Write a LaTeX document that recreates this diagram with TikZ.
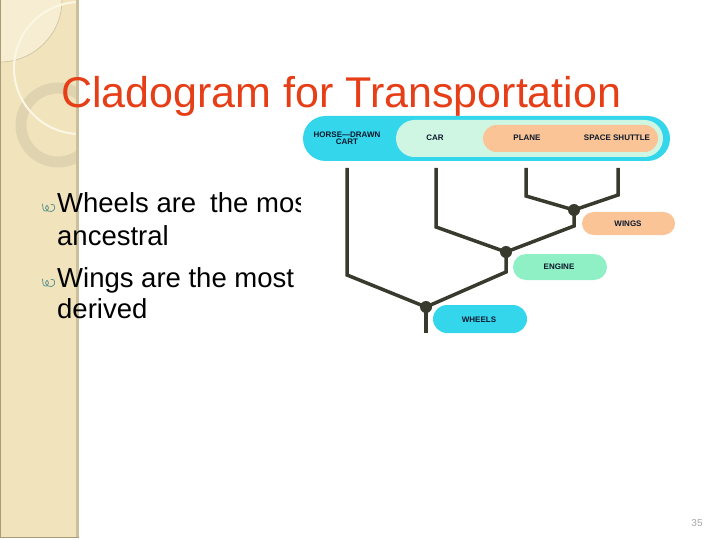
\documentclass[tikz,border=0pt]{standalone}
\usepackage{fontspec}
\setmainfont{Liberation Sans}
\definecolor{side}{RGB}{241,227,188}
\definecolor{sideedge}{RGB}{204,191,156}
\definecolor{sideline}{RGB}{170,155,120}
\definecolor{lightc}{RGB}{246,237,210}
\definecolor{ringc}{RGB}{222,209,174}
\definecolor{creamc}{RGB}{252,247,228}
\definecolor{titlered}{RGB}{230,62,22}
\definecolor{cyanp}{RGB}{52,214,236}
\definecolor{greenp}{RGB}{206,246,226}
\definecolor{orangep}{RGB}{250,196,150}
\definecolor{mintp}{RGB}{142,240,196}
\definecolor{branch}{RGB}{55,58,45}
\definecolor{labtext}{RGB}{12,24,44}
\definecolor{bulc}{RGB}{95,150,140}
\begin{document}
\begin{tikzpicture}[x=1pt,y=-1pt,
  lab/.style={font=\fontsize{8}{8}\selectfont\bfseries, text=labtext, inner sep=0, align=center},
  clade/.style={line width=3.5pt, draw=branch},
  dot/.style={circle, fill=branch, minimum size=12pt, inner sep=0},
  body/.style={anchor=base west, inner sep=0, font=\fontsize{27.5}{32}\selectfont},
  curlbullet/.pic={\draw[bulc, line width=0.8pt, line cap=round]
     plot[smooth] coordinates {(0.5,-2) (1.5,4) (4.5,5) (6.5,2) (5,-0.5) (3.5,2) (6,5) (9.5,5.5) (12.5,3) (12,-1) (9,-1.5)};}
]
\useasboundingbox (0,0) rectangle (720,540);
% sidebar
\fill[side] (0,0) rectangle (76,537);
\begin{scope}
  \clip (0,0) rectangle (76,537);
  \fill[lightc] (0,0) circle (62);
  \draw[sideedge, line width=0.6pt] (0,0) circle (62);
  \draw[ringc, line width=11pt, opacity=0.85] (58,125) circle (37);
  \draw[creamc, line width=2pt] (80,68) circle (66);
\end{scope}
\fill[sideedge] (76,0) rectangle (79,537);
\draw[sideline, line width=0.8pt] (0.4,0) -- (0.4,537) -- (79,537);
% title
\node[anchor=base west, inner sep=0, text=titlered, font=\fontsize{43}{50}\selectfont] (title) at (61,108) {Cladogram for Transportation};
% bullets
\pic at (42,206) {curlbullet};
\pic at (42,281) {curlbullet};
\begin{scope}
  \clip (0,150) rectangle (300,340);
  \node[body] (b1) at (57,212) {Wheels are\hspace{14pt}the most};
\end{scope}
\node[body] (b1b) at (57,245) {ancestral};
\node[body] (b2) at (57,287) {Wings are the most};
\node[body] (b2b) at (57,318) {derived};
% top band
\fill[cyanp] (303,116) [rounded corners=22.5pt] rectangle (670,161);
\fill[greenp] (396,120) [rounded corners=18.5pt] rectangle (663,157);
\fill[orangep] (483,125) [rounded corners=13.5pt] rectangle (658,152);
\node[lab] (horse) at (347,138) {HORSE—DRAWN\\[-1pt]CART};
\node[lab] (car) at (435,138) {CAR};
\node[lab] (plane) at (527,138) {PLANE};
\node[lab] (shuttle) at (617,138) {SPACE SHUTTLE};
% trait pills
\fill[orangep] (582,212) [rounded corners=11.5pt] rectangle (675,235);
\node[lab] (wings) at (628,223.5) {WINGS};
\fill[mintp] (513,254) [rounded corners=13pt] rectangle (607,280);
\node[lab] (engine) at (559,267) {ENGINE};
\fill[cyanp] (433,305) [rounded corners=14pt] rectangle (527,333);
\node[lab] (wheels) at (479,319.5) {WHEELS};
% tree
\coordinate (th) at (347,168);
\coordinate (tc) at (436,168);
\coordinate (tp) at (526,168);
\coordinate (ts) at (618,168);
\coordinate (root) at (426,333);
\node[dot] (nw) at (574,210) {};
\node[dot] (ne) at (506,252) {};
\node[dot] (nh) at (426,307) {};
\draw[clade] (th) -- (347,275) -- (nh.center);
\draw[clade] (tc) -- (436,227) -- (ne.center);
\draw[clade] (tp) -- (526,196) -- (nw.center);
\draw[clade] (ts) -- (618,195) -- (nw.center);
\draw[clade] (nw.center) -- (574,226) -- (ne.center);
\draw[clade] (ne.center) -- (506,272) -- (nh.center);
\draw[clade] (nh.center) -- (root);
% page number
\node[text=black!35, font=\fontsize{10}{10}\selectfont] (pg) at (697,523) {35};
\end{tikzpicture}
\end{document}
